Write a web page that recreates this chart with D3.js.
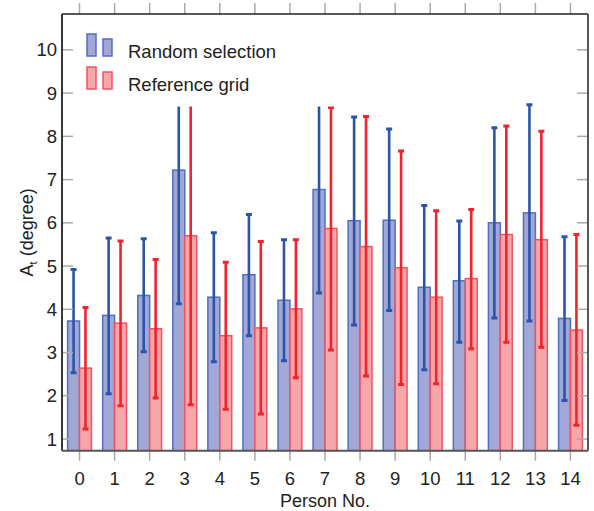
<!DOCTYPE html>
<html>
<head>
<meta charset="utf-8">
<script src="https://cdn.jsdelivr.net/npm/d3@7"></script>
<style>
  body { margin: 0; background: #fff; }
  text { font-family: "Liberation Sans", Arial, sans-serif; fill: #222; }
</style>
</head>
<body>
<div class="chart"></div>
<script>
const persons = [0, 1, 2, 3, 4, 5, 6, 7, 8, 9, 10, 11, 12, 13, 14];
const randomMean  = [3.73, 3.86, 4.32, 7.22, 4.28, 4.80, 4.21, 6.77, 6.05, 6.06, 4.51, 4.66, 6.00, 6.23, 3.79];
const randomLow   = [2.53, 2.05, 3.02, 4.13, 2.79, 3.39, 2.81, 4.38, 3.64, 3.97, 2.60, 3.24, 3.80, 3.73, 1.89];
const randomHigh  = [4.92, 5.65, 5.63, 10.3, 5.77, 6.19, 5.61, 9.1, 8.45, 8.17, 6.40, 6.04, 8.20, 8.73, 5.68];
const refMean     = [2.64, 3.68, 3.55, 5.70, 3.39, 3.57, 4.01, 5.87, 5.45, 4.96, 4.28, 4.71, 5.73, 5.61, 3.52];
const refLow      = [1.23, 1.77, 1.95, 1.79, 1.69, 1.58, 2.42, 3.06, 2.46, 2.26, 2.28, 3.09, 3.24, 3.12, 1.32];
const refHigh     = [4.04, 5.58, 5.15, 9.6, 5.09, 5.57, 5.61, 8.67, 8.46, 7.66, 6.28, 6.31, 8.24, 8.12, 5.73];
const yTicks = [1, 2, 3, 4, 5, 6, 7, 8, 9, 10];

const series = [
  { name: "Random selection", mean: randomMean, low: randomLow, high: randomHigh,
    fill: "#a3a7d6", stroke: "#4f6fc2", err: "#2b55a8", offset: -0.17 },
  { name: "Reference grid", mean: refMean, low: refLow, high: refHigh,
    fill: "#f7a7aa", stroke: "#f2535f", err: "#f2232c", offset: 0.17 }
];

const W = 594, H = 511;
const margin = { top: 14, right: 6, bottom: 60, left: 62 };
const x0 = margin.left, x1 = W - margin.right;
const y0 = H - margin.bottom - 0.3, y1 = margin.top;

const x = d3.scaleLinear().domain([-0.5, 14.5]).range([x0, x1]);
const y = d3.scaleLinear().domain([0.73, 10.83]).range([y0, y1]);
const barW = (x(0.17) - x(0)) * 2;

const svg = d3.select(".chart").append("svg")
  .attr("width", W).attr("height", H);

svg.append("defs").append("clipPath").attr("id", "plot")
  .append("rect").attr("x", x0).attr("y", y1).attr("width", x1 - x0).attr("height", y0 - y1);

const plot = svg.append("g").attr("clip-path", "url(#plot)");

// bars
series.forEach(s => {
  plot.append("g").selectAll("rect")
    .data(persons)
    .join("rect")
    .attr("x", d => x(d + s.offset) - barW / 2)
    .attr("y", d => y(s.mean[d]))
    .attr("width", barW)
    .attr("height", d => y0 + 2 - y(s.mean[d]))
    .attr("fill", s.fill)
    .attr("stroke", s.stroke)
    .attr("stroke-width", 1.5);
});

// error bars
series.forEach(s => {
  const g = plot.append("g").attr("stroke", s.err);
  g.selectAll("line.v").data(persons).join("line").attr("class", "v")
    .attr("x1", d => x(d + s.offset)).attr("x2", d => x(d + s.offset))
    .attr("y1", d => y(s.low[d])).attr("y2", d => y(s.high[d]))
    .attr("stroke-width", 2.6);
  ["low", "high"].forEach(k => {
    g.selectAll("line.c" + k).data(persons).join("line").attr("class", "c" + k)
      .attr("x1", d => x(d + s.offset) - 3).attr("x2", d => x(d + s.offset) + 3)
      .attr("y1", d => y(s[k][d])).attr("y2", d => y(s[k][d]))
      .attr("stroke-width", 3);
  });
});

// legend (opaque box)
const legend = svg.append("g");
legend.append("rect")
  .attr("x", x0 + 1).attr("y", y1 + 1).attr("width", 300).attr("height", 91.5)
  .attr("fill", "#fff");
series.forEach((s, i) => {
  const ly = 56 + i * 33;
  legend.append("rect").attr("x", 87).attr("y", ly - 22).attr("width", 9).attr("height", 22)
    .attr("fill", s.fill).attr("stroke", s.stroke).attr("stroke-width", 1.5);
  legend.append("rect").attr("x", 103).attr("y", ly - 17).attr("width", 9).attr("height", 17)
    .attr("fill", s.fill).attr("stroke", s.stroke).attr("stroke-width", 1.5);
  legend.append("text").attr("x", 128).attr("y", ly + 1.5)
    .style("font-size", "18.5px").text(s.name);
});

// ticks
const tickColor = "#aaa";
const yT = svg.append("g").attr("stroke", tickColor).attr("stroke-width", 1.5);
yT.selectAll("line.l").data(yTicks).join("line").attr("class", "l")
  .attr("x1", x0).attr("x2", x0 + 11).attr("y1", d => y(d)).attr("y2", d => y(d));
yT.selectAll("line.r").data(yTicks).join("line").attr("class", "r")
  .attr("x1", x1 - 11).attr("x2", x1).attr("y1", d => y(d)).attr("y2", d => y(d));
const xT = svg.append("g").attr("stroke", tickColor).attr("stroke-width", 1.5);
xT.selectAll("line.b").data(persons).join("line").attr("class", "b")
  .attr("x1", d => x(d)).attr("x2", d => x(d)).attr("y1", y0).attr("y2", y0 + 10);
xT.selectAll("line.t").data(persons).join("line").attr("class", "t")
  .attr("x1", d => x(d)).attr("x2", d => x(d)).attr("y1", y1).attr("y2", y1 - 11);

// frame
svg.append("line").attr("x1", x0).attr("x2", x1).attr("y1", y1).attr("y2", y1)
  .attr("stroke", "#222").attr("stroke-width", 1.6);
svg.append("line").attr("x1", x0).attr("x2", x0).attr("y1", y1).attr("y2", y0)
  .attr("stroke", "#222").attr("stroke-width", 1.8);
svg.append("line").attr("x1", x1).attr("x2", x1).attr("y1", y1).attr("y2", y0)
  .attr("stroke", "#444").attr("stroke-width", 1.8);
svg.append("line").attr("x1", x0).attr("x2", x1).attr("y1", y0).attr("y2", y0)
  .attr("stroke", "#555").attr("stroke-width", 2);

// tick labels
svg.append("g").selectAll("text").data(yTicks).join("text")
  .attr("x", x0 - 5).attr("y", d => y(d) + 6.5)
  .attr("text-anchor", "end").style("font-size", "18.5px").text(d => d);
svg.append("g").selectAll("text").data(persons).join("text")
  .attr("x", d => x(d)).attr("y", 485)
  .attr("text-anchor", "middle").style("font-size", "18.5px").text(d => d);

// axis titles
svg.append("text").attr("x", (x0 + x1) / 2).attr("y", 507)
  .attr("text-anchor", "middle").style("font-size", "18px").text("Person No.");
const yl = svg.append("text")
  .attr("transform", `translate(33,${(y0 + y1) / 2}) rotate(-90)`)
  .attr("text-anchor", "middle").style("font-size", "18px");
yl.append("tspan").text("A");
yl.append("tspan").attr("dy", 4).style("font-size", "11px").text("t");
yl.append("tspan").attr("dy", -4).text(" (degree)");
</script>
</body>
</html>
